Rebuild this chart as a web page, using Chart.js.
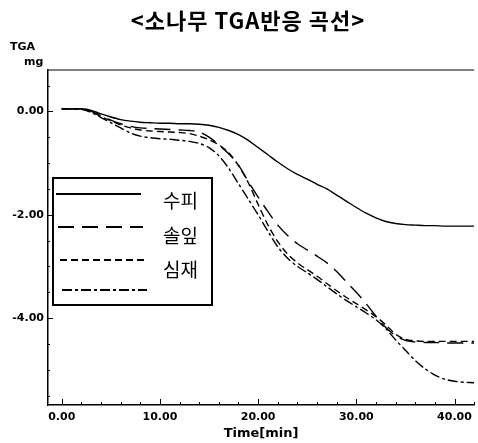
<!DOCTYPE html>
<html>
<head>
<meta charset="utf-8">
<script src="https://cdn.jsdelivr.net/npm/chart.js@4.4.1/dist/chart.umd.min.js"></script>
<style>
  html, body { margin: 0; padding: 0; background: #fff; }
  #wrap { width: 478px; height: 443px; }
</style>
</head>
<body>
<div id="wrap"><canvas id="tgaChart"></canvas></div>
<script>
// TGA curves of pine (sonamu), mass change in mg vs time in min
const time = [0,1,2,3,4,5,6,7,8,9,10,11,12,13,14,15,16,17,18,19,20,21,22,23,24,25,26,27,28,29,30,31,32,33,34,35,36,37,38,39,40,41,42];
const barkVals   = [0.05,0.05,0.05,0.02,-0.05,-0.11,-0.16,-0.19,-0.21,-0.22,-0.23,-0.23,-0.24,-0.24,-0.25,-0.27,-0.31,-0.37,-0.45,-0.56,-0.7,-0.84,-0.98,-1.11,-1.22,-1.31,-1.41,-1.5,-1.62,-1.74,-1.86,-1.97,-2.06,-2.13,-2.17,-2.19,-2.2,-2.21,-2.21,-2.22,-2.22,-2.22,-2.22];
const needleVals = [0.05,0.05,0.04,0.0,-0.09,-0.17,-0.24,-0.29,-0.32,-0.33,-0.34,-0.35,-0.36,-0.37,-0.4,-0.5,-0.65,-0.82,-1.04,-1.36,-1.66,-1.94,-2.2,-2.4,-2.56,-2.68,-2.8,-2.93,-3.1,-3.3,-3.5,-3.72,-3.96,-4.18,-4.34,-4.43,-4.46,-4.47,-4.47,-4.48,-4.48,-4.48,-4.48];
const heartVals  = [0.05,0.05,0.04,0.0,-0.1,-0.18,-0.26,-0.32,-0.36,-0.38,-0.39,-0.4,-0.41,-0.43,-0.48,-0.55,-0.65,-0.8,-1.05,-1.38,-1.8,-2.2,-2.52,-2.76,-2.93,-3.06,-3.19,-3.33,-3.47,-3.6,-3.72,-3.84,-3.97,-4.13,-4.31,-4.41,-4.44,-4.45,-4.45,-4.45,-4.45,-4.45,-4.45];
const fourthVals = [0.05,0.05,0.04,-0.02,-0.12,-0.22,-0.32,-0.42,-0.48,-0.51,-0.53,-0.54,-0.56,-0.58,-0.62,-0.7,-0.86,-1.1,-1.4,-1.7,-2.0,-2.32,-2.62,-2.84,-3.0,-3.12,-3.25,-3.39,-3.53,-3.66,-3.78,-3.9,-4.03,-4.2,-4.42,-4.62,-4.82,-4.98,-5.1,-5.18,-5.22,-5.24,-5.25];

const seriesNames = ['수피', '솔잎', '심재', ''];
const xTicks = [0, 10, 20, 30, 40];
const yTicks = [0, -2, -4];

const dashes = [[], [16, 8], [7, 4], [10, 3, 3, 3]];
const allVals = [barkVals, needleVals, heartVals, fourthVals];

const tickFont = { family: 'DejaVu Sans', size: 11, weight: 'bold' };

// frame, inward ticks, titles and the boxed legend
const decorPlugin = {
    id: 'decor',
    afterDraw(chart) {
        const { ctx, chartArea: a, scales: { x, y } } = chart;
        ctx.save();
        ctx.strokeStyle = '#000';
        ctx.lineWidth = 1.2;
        ctx.beginPath();
        ctx.moveTo(a.left, a.top);
        ctx.lineTo(a.right, a.top);
        ctx.stroke();

        // x ticks: every 2 min, longer at labelled ones
        ctx.lineWidth = 1;
        for (let v = 0; v <= 42; v += 2) {
            const px = Math.round(x.getPixelForValue(v)) + 0.5;
            const len = v % 10 === 0 ? 6 : 3;
            ctx.beginPath();
            ctx.moveTo(px, a.bottom);
            ctx.lineTo(px, a.bottom - len);
            ctx.stroke();
        }
        for (let v = 0.5; v >= -5.5; v -= 0.5) {
            const py = Math.round(y.getPixelForValue(v)) + 0.5;
            const len = v % 2 === 0 ? 5 : 2;
            ctx.beginPath();
            ctx.moveTo(a.left, py);
            ctx.lineTo(a.left + len, py);
            ctx.stroke();
        }

        // titles
        ctx.fillStyle = '#000';
        ctx.textBaseline = 'middle';
        ctx.textAlign = 'center';
        ctx.font = 'bold 22px "Noto Sans CJK KR"';
        ctx.letterSpacing = '1px';
        ctx.fillText('<소나무 TGA반응 곡선>', 248, 21);
        ctx.letterSpacing = '0px';
        ctx.textAlign = 'left';
        ctx.font = 'bold 11px "DejaVu Sans"';
        ctx.fillText('TGA', 10, 47);
        ctx.fillText('mg', 24, 62);

        // legend box
        const box = { l: 53, t: 178, r: 212, b: 305 };
        ctx.lineWidth = 2;
        ctx.strokeRect(box.l, box.t, box.r - box.l, box.b - box.t);
        const lineY = [194, 227, 260, 290];
        const textY = [201, 236, 270];
        chart.data.datasets.forEach((ds, i) => {
            ctx.setLineDash(ds.borderDash || []);
            ctx.beginPath();
            ctx.moveTo(56 + i * 2, lineY[i]);
            ctx.lineTo(141 + i * 2, lineY[i]);
            ctx.stroke();
        });
        ctx.setLineDash([]);
        ctx.font = '19px "Noto Sans CJK KR"';
        seriesNames.forEach((n, i) => {
            if (n) ctx.fillText(n, 163, textY[i]);
        });
        ctx.restore();
    }
};

new Chart(document.getElementById('tgaChart'), {
    type: 'line',
    data: {
        datasets: allVals.map((vals, i) => ({
            label: seriesNames[i],
            data: time.map((t, k) => ({ x: t, y: vals[k] })),
            borderColor: '#000',
            borderWidth: 1.4,
            borderDash: dashes[i],
            pointRadius: 0,
            tension: 0.3,
            fill: false,
        }))
    },
    options: {
        responsive: true,
        maintainAspectRatio: false,
        animation: false,
        layout: { padding: { top: 70, right: 2, left: 0, bottom: 0 } },
        scales: {
            x: {
                type: 'linear',
                min: -1.4,
                max: 42,
                afterBuildTicks: s => { s.ticks = xTicks.map(v => ({ value: v })); },
                afterFit: s => { s.height = 38; },
                ticks: { color: '#000', font: tickFont, padding: 6, maxRotation: 0, autoSkip: false, callback: v => v.toFixed(2) },
                grid: { drawOnChartArea: false, drawTicks: false },
                border: { color: '#000', width: 1.5 },
                title: { display: true, text: 'Time[min]', color: '#000', font: { family: 'DejaVu Sans', size: 13, weight: 'bold' }, padding: { top: 0, bottom: 2 } }
            },
            y: {
                min: -5.68,
                max: 0.8,
                afterBuildTicks: s => { s.ticks = yTicks.map(v => ({ value: v })); },
                afterFit: s => { s.width = 48; },
                ticks: { color: '#000', font: tickFont, padding: 4, callback: v => v.toFixed(2) },
                grid: { drawOnChartArea: false, drawTicks: false },
                border: { color: '#000', width: 1.5 }
            }
        },
        plugins: {
            legend: { display: false },
            tooltip: { enabled: false }
        }
    },
    plugins: [decorPlugin]
});
</script>
</body>
</html>
